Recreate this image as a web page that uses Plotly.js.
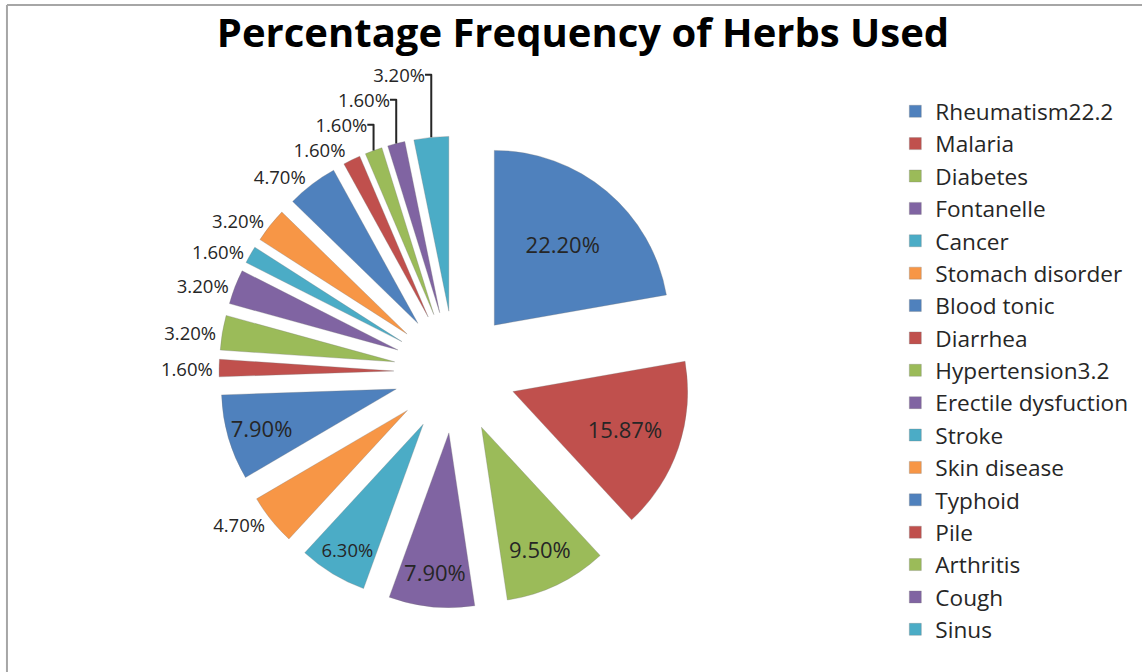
<!DOCTYPE html>
<html>
<head>
<meta charset="utf-8">
<script src="https://cdn.plot.ly/plotly-3.0.1.min.js"></script>
<style>
  html, body { margin: 0; padding: 0; background: #fff; }
  #chart { width: 1142px; height: 672px; }
</style>
</head>
<body>
<div id="chart"></div>
<script>
const labels = ["Rheumatism22.2", "Malaria", "Diabetes", "Fontanelle", "Cancer",
  "Stomach disorder", "Blood tonic", "Diarrhea", "Hypertension3.2",
  "Erectile dysfuction", "Stroke", "Skin disease", "Typhoid", "Pile",
  "Arthritis", "Cough", "Sinus"];
const values = [22.20, 15.87, 9.50, 7.90, 6.30, 4.70, 7.90, 1.60, 3.20,
  3.20, 1.60, 3.20, 4.70, 1.60, 1.60, 1.60, 3.20];
const palette = ["#4F81BD", "#C0504D", "#9BBB59", "#8064A2", "#4BACC6", "#F79646"];
const colors = labels.map((_, i) => palette[i % palette.length]);
const textPositions = values.map((v) => (v >= 6 ? "inside" : "outside"));

const FONT = "'Open Sans', 'Noto Sans', sans-serif";

const trace = {
  type: "pie",
  labels: labels,
  values: values,
  sort: false,
  direction: "clockwise",
  rotation: 0,
  pull: values.map(() => 0.35),
  marker: { colors: colors, line: { color: "rgba(120,120,120,0.5)", width: 0.6 } },
  texttemplate: "%{value:.2f}%",
  textposition: textPositions,
  insidetextorientation: "horizontal",
  textfont: { family: FONT, size: 22, color: "#262626" },
  insidetextfont: { family: FONT, size: 22, color: "#262626" },
  outsidetextfont: { family: FONT, size: 18.5, color: "#262626" },
  hoverinfo: "label+value",
  domain: { x: [0.1918, 0.605], y: [0.0952, 0.7976] }
};

const layout = {
  width: 1142,
  height: 672,
  margin: { l: 0, r: 0, t: 0, b: 0 },
  paper_bgcolor: "#ffffff",
  title: {
    text: "<b>Percentage Frequency of Herbs Used</b>",
    font: { family: FONT, size: 40, color: "#000000" },
    x: 0.5105,
    xanchor: "center",
    y: 0.951,
    yanchor: "middle"
  },
  showlegend: true,
  legend: {
    x: 0.784,
    xanchor: "left",
    y: 0.866,
    yanchor: "top",
    font: { family: FONT, size: 22.6, color: "#262626" },
    bgcolor: "rgba(0,0,0,0)",
    traceorder: "normal"
  },
  shapes: [
    { type: "line", xref: "paper", yref: "paper", x0: 0.0061, x1: 1.01, y0: 0.9925, y1: 0.9925,
      line: { color: "#a6a6a6", width: 2 } },
    { type: "line", xref: "paper", yref: "paper", x0: 0.0061, x1: 0.0061, y0: -0.01, y1: 0.9925,
      line: { color: "#a6a6a6", width: 2 } }
  ]
};

Plotly.newPlot("chart", [trace], layout, { displayModeBar: false, staticPlot: true });
</script>
</body>
</html>
